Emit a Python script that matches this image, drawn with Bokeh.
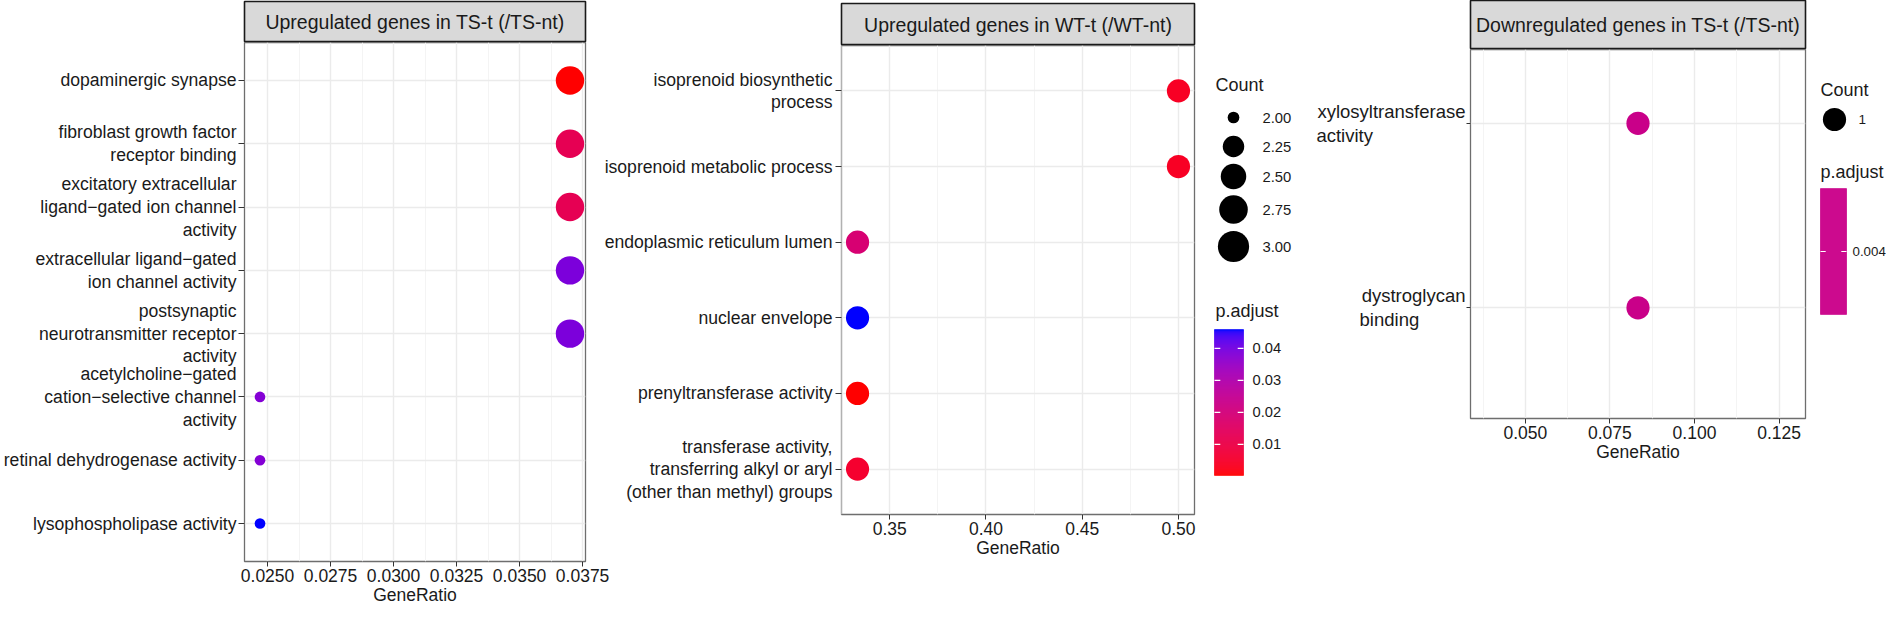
import numpy as np
from bokeh.plotting import figure
from bokeh.models import (Range1d, FixedTicker, PrintfTickFormatter,
                          ColumnDataSource, LinearColorMapper)
from bokeh.layouts import row, column
from bokeh.core.properties import value
from bokeh.embed import file_html
from bokeh.resources import INLINE

# ------------------------------------------------------------------ data
P1_TITLE = "Upregulated genes in TS-t (/TS-nt)"
P1_TERMS = [
    "dopaminergic synapse",
    "fibroblast growth factor\nreceptor binding",
    "excitatory extracellular\nligand\u2212gated ion channel\nactivity",
    "extracellular ligand\u2212gated\nion channel activity",
    "postsynaptic\nneurotransmitter receptor\nactivity",
    "acetylcholine\u2212gated\ncation\u2212selective channel\nactivity",
    "retinal dehydrogenase activity",
    "lysophospholipase activity",
]
P1_RATIO = [0.0370, 0.0370, 0.0370, 0.0370, 0.0370, 0.0247, 0.0247, 0.0247]
P1_COUNT = [3, 3, 3, 3, 3, 2, 2, 2]
P1_PADJ = [0.0004, 0.0125, 0.0125, 0.0390, 0.0390, 0.0380, 0.0380, 0.0459]
P1_XTICKS = [0.0250, 0.0275, 0.0300, 0.0325, 0.0350, 0.0375]

P2_TITLE = "Upregulated genes in WT-t (/WT-nt)"
P2_TERMS = [
    "isoprenoid biosynthetic\nprocess",
    "isoprenoid metabolic process",
    "endoplasmic reticulum lumen",
    "nuclear envelope",
    "prenyltransferase activity",
    "transferase activity,\ntransferring alkyl or aryl\n(other than methyl) groups",
]
P2_RATIO = [0.5000, 0.5000, 0.3333, 0.3333, 0.3333, 0.3333]
P2_COUNT = [1, 1, 1, 1, 1, 1]
P2_PADJ = [0.0040, 0.0040, 0.0185, 0.0459, 0.0003, 0.0058]
P2_XTICKS = [0.35, 0.40, 0.45, 0.50]

P3_TITLE = "Downregulated genes in TS-t (/TS-nt)"
P3_TERMS = ["xylosyltransferase\nactivity", "dystroglycan\nbinding"]
P3_RATIO = [0.0833, 0.0833]
P3_COUNT = [1, 1]
P3_PADJ = [0.0040, 0.0040]
P3_XTICKS = [0.050, 0.075, 0.100, 0.125]

COUNT_BREAKS = [2.00, 2.25, 2.50, 2.75, 3.00]
PADJ_BREAKS = [0.01, 0.02, 0.03, 0.04]
P3_COUNT_BREAKS = [1]
P3_PADJ_BREAKS = [0.004]

# ------------------------------------------------------------------ style / layout
FONT = "Liberation Sans"
INK = "#1a1a1a"
MARGIN = 8
GRID = "#EBEBEB"
GRID_MINOR = "#F4F4F4"
FRAME_LINE = "#6e6e6e"
YLAB_SIZE = "17.6px"

P1_L, P1_FW, P1_R, P1_FH, P1_BOT = 244, 341, 27, 519, 47
S1_TOP, S1_H = 1, 41
OVERLAP = 20
P2_L, P2_FW, P2_R, P2_FH = 249, 353, 10, 469
S2_TOP, S2_H = 3, 42
L2_W, L2_H = 98, 480
P3_L, P3_FW, P3_R, P3_FH = 168, 335, 5, 369
S3_TOP, S3_H = 0, 49
L3_W, L3_H = 76, 330
P3_XHALF = 0.0495
DOT_K, LEG2_K, LEG3_K = 3.55, 3.9, 3.55

# ------------------------------------------------------------------ colour scale (red -> blue in CIE Lab)
_M = np.array([[0.4124564, 0.3575761, 0.1804375],
               [0.2126729, 0.7151522, 0.0721750],
               [0.0193339, 0.1191920, 0.9503041]])
_WP = np.array([0.95047, 1.0, 1.08883])


def rgb_to_lab(rgb):
    c = np.asarray(rgb, float) / 255.0
    lin = np.where(c <= 0.04045, c / 12.92, ((c + 0.055) / 1.055) ** 2.4)
    r = (_M @ lin) / _WP
    d = 6 / 29
    f = np.where(r > d ** 3, np.cbrt(r), r / (3 * d * d) + 4 / 29)
    return np.array([116 * f[1] - 16, 500 * (f[0] - f[1]), 200 * (f[1] - f[2])])


def lab_to_hex(lab):
    L, a, b = lab
    fy = (L + 16) / 116
    f = np.array([fy + a / 500, fy, fy - b / 200])
    d = 6 / 29
    r = np.where(f > d, f ** 3, 3 * d * d * (f - 4 / 29))
    lin = np.clip(np.linalg.solve(_M, r * _WP), 0, 1)
    c = np.where(lin <= 0.0031308, 12.92 * lin, 1.055 * lin ** (1 / 2.4) - 0.055)
    rgb = np.round(np.clip(c, 0, 1) * 255).astype(int)
    return "#%02x%02x%02x" % tuple(rgb)


_LO, _HI = rgb_to_lab((255, 0, 0)), rgb_to_lab((0, 0, 255))
PALETTE = [lab_to_hex(_LO + (_HI - _LO) * t) for t in np.linspace(0, 1, 256)]


def padj_mapper(padj):
    lo, hi = min(padj), max(padj)
    if hi <= lo:
        lo, hi = lo * 0.5, hi * 1.5
    return LinearColorMapper(palette=PALETTE, low=lo, high=hi)


def dot_size(counts, lims, k):
    lo, hi = lims
    c = np.asarray(counts, float)
    t = np.full(c.shape, 0.5) if hi <= lo else (c - lo) / (hi - lo)
    return k * (3 + 5 * np.sqrt(t))


ARIAL = dict(zip("abcdefghijklmnopqrstuvwxyz",
                 [556, 556, 500, 556, 556, 278, 556, 556, 222, 222, 500, 222, 833,
                  556, 556, 556, 556, 333, 500, 278, 556, 500, 722, 500, 500, 500]))
ARIAL[" "] = 278


def em_w(s):
    return sum(ARIAL.get(ch, 556) for ch in s) / 1000


def left_justify(label):
    """pad shorter lines with no-break spaces so lines read left-aligned in a right-anchored block"""
    lines = label.split("\n")
    wmax = max(em_w(l) for l in lines)
    return "\n".join(l + "\u00a0" * int(round((wmax - em_w(l)) / 0.278)) for l in lines)


def x_limits(ratio, half_if_single):
    lo, hi = min(ratio), max(ratio)
    if hi > lo:
        pad = 0.05 * (hi - lo)
        return lo - pad, hi + pad
    return lo - half_if_single, hi + half_if_single


# ------------------------------------------------------------------ builders
def strip(title, L, FW, R, top, H):
    s = figure(frame_width=FW, frame_height=H, min_border_left=L, min_border_right=R,
               min_border_top=top, min_border_bottom=0, title=None,
               x_range=Range1d(0, 1), y_range=Range1d(0, 1),
               x_axis_location=None, y_axis_location=None,
               toolbar_location=None, output_backend="svg")
    s.grid.visible = False
    s.background_fill_color = "#D9D9D9"
    s.border_fill_color = None
    s.outline_line_color = INK
    s.outline_line_width = 1.6
    s.text(x=[0.5], y=[0.5], text=[title], text_align="center", text_baseline="middle",
           text_font=value(FONT), text_font_size=value("19.5px"), text_color=INK)
    return s


def panel(terms, ratio, count, padj, xticks, xfmt, yr, L, FW, R, FH, bot,
          ytick, ystand, xhalf=0.0):
    n = len(terms)
    ypos = [n - i for i in range(n)]
    xr = x_limits(ratio, xhalf)
    p = figure(frame_width=FW, frame_height=FH, min_border_left=L, min_border_right=R,
               min_border_top=0, min_border_bottom=bot, title=None,
               x_range=Range1d(*xr), y_range=Range1d(*yr),
               toolbar_location=None, output_backend="svg")
    p.background_fill_color = "white"
    p.border_fill_color = None
    p.outline_line_color = FRAME_LINE
    p.outline_line_width = 1.3

    step = xticks[1] - xticks[0]
    minor = [t - step / 2 for t in xticks] + [xticks[-1] + step / 2]
    minor = [m for m in minor if xr[0] < m < xr[1]]

    xa = p.xaxis[0]
    xa.ticker = FixedTicker(ticks=xticks, minor_ticks=minor)
    xa.formatter = PrintfTickFormatter(format=xfmt)
    xa.axis_line_color = None
    xa.major_tick_out, xa.major_tick_in = 5, 0
    xa.minor_tick_out, xa.minor_tick_in = 0, 0
    xa.major_tick_line_color = "#333333"
    xa.major_label_text_font = FONT
    xa.major_label_text_font_size = "17.5px"
    xa.major_label_text_color = INK
    xa.major_label_standoff = 2
    xa.axis_label = "GeneRatio"
    xa.axis_label_text_font = FONT
    xa.axis_label_text_font_size = "17.5px"
    xa.axis_label_text_font_style = "normal"
    xa.axis_label_text_color = INK
    xa.axis_label_standoff = 0

    ya = p.yaxis[0]
    ya.ticker = FixedTicker(ticks=ypos, minor_ticks=[])
    ya.major_label_overrides = {y: t for y, t in zip(ypos, terms)}
    ya.axis_line_color = None
    ya.major_tick_out, ya.major_tick_in = ytick, 0
    ya.minor_tick_out, ya.minor_tick_in = 0, 0
    ya.major_tick_line_color = "#333333"
    ya.major_label_standoff = ystand
    ya.major_label_text_font = FONT
    ya.major_label_text_font_size = YLAB_SIZE
    ya.major_label_text_color = INK
    ya.major_label_text_line_height = 1.13

    p.xgrid.grid_line_color = GRID
    p.xgrid.grid_line_width = 1.4
    p.xgrid.minor_grid_line_color = GRID_MINOR
    p.xgrid.minor_grid_line_width = 1.0
    p.ygrid.grid_line_color = GRID
    p.ygrid.grid_line_width = 1.4

    src = ColumnDataSource(dict(x=ratio, y=ypos,
                                s=dot_size(count, (min(count), max(count)), DOT_K),
                                padj=padj))
    mapper = padj_mapper(padj)
    p.scatter("x", "y", size="s", source=src, marker="circle",
              fill_color={"field": "padj", "transform": mapper}, line_color=None)
    return p


def legend_fig(left, w, h):
    f = figure(frame_width=w, frame_height=h, min_border_left=0, min_border_right=0,
               min_border_top=0, min_border_bottom=0, title=None,
               x_range=Range1d(0, w), y_range=Range1d(0, h),
               x_axis_location=None, y_axis_location=None,
               toolbar_location=None, output_backend="svg")
    f.grid.visible = False
    f.outline_line_color = None
    f.background_fill_color = None
    f.border_fill_color = None
    fx = lambda x: x - left
    fy = lambda y: h - (y - MARGIN)
    return f, fx, fy


def ftext(f, xs, ys, texts, size):
    f.text(x=xs, y=ys, text=texts, text_align="left", text_baseline="middle",
           text_font=value(FONT), text_font_size=value(size), text_color=INK)


def colorbar(f, fx, fy, x0, x1, ytop, ybot, padj, breaks, fmt, size, lab_x):
    mapper = padj_mapper(padj)
    lo, hi = min(padj), max(padj)
    n = int(round(ybot - ytop))
    fr = (np.arange(n) + 0.5) / n
    vals = lo + fr * (hi - lo)
    b0 = fy(ybot)
    src = ColumnDataSource(dict(l=[fx(x0)] * n, r=[fx(x1)] * n,
                                b=[b0 + i for i in range(n)], t=[b0 + i + 1 for i in range(n)],
                                v=vals))
    cmap = {"field": "v", "transform": mapper}
    f.quad(left="l", right="r", bottom="b", top="t", source=src,
           fill_color=cmap, line_color=cmap, line_width=0.6)
    ys = [b0 + ((b - lo) / (hi - lo) if hi > lo else 0.5) * (ybot - ytop) for b in breaks]
    tl = (x1 - x0) / 5
    f.segment(x0=[fx(x0)] * len(ys), x1=[fx(x0) + tl] * len(ys), y0=ys, y1=ys,
              line_color="white", line_width=1.2)
    f.segment(x0=[fx(x1) - tl] * len(ys), x1=[fx(x1)] * len(ys), y0=ys, y1=ys,
              line_color="white", line_width=1.2)
    ftext(f, [fx(lab_x)] * len(ys), ys, [fmt % b for b in breaks], size)


# ------------------------------------------------------------------ panel 1
s1 = strip(P1_TITLE, P1_L, P1_FW, P1_R, S1_TOP, S1_H)
p1 = panel(P1_TERMS, P1_RATIO, P1_COUNT, P1_PADJ, P1_XTICKS, "%.4f",
           (0.4, len(P1_TERMS) + 0.6), P1_L, P1_FW, P1_R, P1_FH, P1_BOT, 6, 2)

# ------------------------------------------------------------------ panel 2 (slides 20px under panel 1's right margin)
s2 = strip(P2_TITLE, P2_L, P2_FW, P2_R, S2_TOP, S2_H)
p2 = panel(P2_TERMS, P2_RATIO, P2_COUNT, P2_PADJ, P2_XTICKS, "%.2f",
           (0.4, len(P2_TERMS) + 0.6), P2_L, P2_FW, P2_R, P2_FH, 44, 6, 3)
col2 = column(s2, p2, margin=(0, 0, 0, -OVERLAP))

# ------------------------------------------------------------------ legend between panel 2 and 3
L2_LEFT = MARGIN + P1_L + P1_FW + P1_R - OVERLAP + P2_L + P2_FW + P2_R
leg2, fx2, fy2 = legend_fig(L2_LEFT, L2_W, L2_H)
ftext(leg2, [fx2(1223)], [fy2(92)], ["Count"], "18px")
key_y = [fy2(v) for v in (125, 154, 184, 217, 254)]
leg2.scatter(x=[fx2(1241)] * len(COUNT_BREAKS), y=key_y,
             size=list(dot_size(COUNT_BREAKS, (min(P1_COUNT), max(P1_COUNT)), LEG2_K)),
             marker="circle", fill_color="black", line_color=None)
ftext(leg2, [fx2(1270)] * len(COUNT_BREAKS), key_y, ["%.2f" % b for b in COUNT_BREAKS], "14.8px")
ftext(leg2, [fx2(1223)], [fy2(318)], ["p.adjust"], "18px")
colorbar(leg2, fx2, fy2, 1222, 1251, 337, 483, P2_PADJ, PADJ_BREAKS, "%.2f", "14.7px", 1260)

# ------------------------------------------------------------------ panel 3
s3 = strip(P3_TITLE, P3_L, P3_FW, P3_R, S3_TOP, S3_H)
p3 = panel([left_justify(t) for t in P3_TERMS], P3_RATIO, P3_COUNT, P3_PADJ, P3_XTICKS, "%.3f",
           (0.4, len(P3_TERMS) + 0.4), P3_L, P3_FW, P3_R, P3_FH, 44, 4, 1, xhalf=P3_XHALF)
p3.yaxis[0].major_label_text_font_size = "18.5px"

L3_LEFT = L2_LEFT + L2_W + P3_L + P3_FW + P3_R
leg3, fx3, fy3 = legend_fig(L3_LEFT, L3_W, L3_H)
ftext(leg3, [fx3(1828)], [fy3(97)], ["Count"], "18px")
leg3.scatter(x=[fx3(1842)], y=[fy3(127)],
             size=list(dot_size(P3_COUNT_BREAKS, (min(P3_COUNT), max(P3_COUNT)), LEG3_K)),
             marker="circle", fill_color="black", line_color=None)
ftext(leg3, [fx3(1866)], [fy3(127)], ["%d" % b for b in P3_COUNT_BREAKS], "13.5px")
ftext(leg3, [fx3(1828)], [fy3(179)], ["p.adjust"], "18px")
colorbar(leg3, fx3, fy3, 1828, 1854, 196, 322, P3_PADJ, P3_PADJ_BREAKS, "%.3f", "13.3px", 1860)

layout = row(column(s1, p1), col2, leg2, column(s3, p3), leg3)
open("out.html", "w").write(file_html(layout, INLINE))
